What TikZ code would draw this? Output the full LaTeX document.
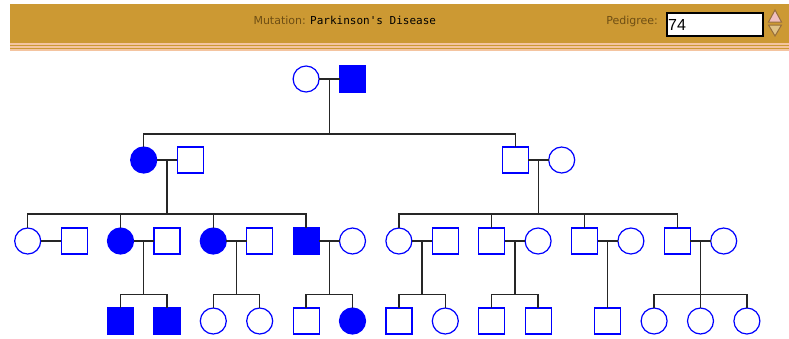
\documentclass[tikz,border=0pt]{standalone}
\usepackage{fontspec}
\usetikzlibrary{calc}
\newfontfamily\labelfont{DejaVu Sans}
\newfontfamily\namefont{DejaVu Sans Mono}
\newfontfamily\boxfont{Liberation Sans}
\definecolor{pedblue}{RGB}{0,0,255}
\definecolor{bargold}{RGB}{204,153,51}
\definecolor{barstripe}{RGB}{244,196,160}
\definecolor{labelbrown}{RGB}{110,78,20}
\definecolor{spinpink}{RGB}{240,190,190}
\definecolor{spinedge}{RGB}{150,110,60}

\begin{document}
\begin{tikzpicture}[x=1pt,y=-1pt,
  male/.style={rectangle,draw=pedblue,line width=1.2pt,minimum size=26pt,inner sep=0pt,outer sep=0pt},
  female/.style={circle,draw=pedblue,line width=1.2pt,minimum size=26pt,inner sep=0pt,outer sep=0pt},
  affected/.style={fill=pedblue},
  link/.style={draw=black!85,line width=1.3pt},
  headtext/.style={inner sep=0pt,font=\labelfont\fontsize{11}{13}\selectfont,text=labelbrown}]
\useasboundingbox (0,0) rectangle (789,338);

% header bar
\fill[bargold] (10,4) rectangle (789,43);
\fill[barstripe] (10,43) rectangle (789,44.5);
\fill[bargold] (10,44.5) rectangle (789,46);
\fill[barstripe] (10,46) rectangle (789,47.5);
\fill[bargold] (10,47.5) rectangle (789,49);
\fill[barstripe] (10,49) rectangle (789,50.5);
\node[headtext,anchor=base east] (mutlabel) at (306,24) {Mutation:};
\node[inner sep=0pt,anchor=base west,font=\namefont\fontsize{11}{13}\selectfont] (mutname) at (310,24) {Parkinson's Disease};
\node[headtext,anchor=base east] (pedlabel) at (658,24) {Pedigree:};
\node[draw=black,line width=2pt,fill=white,minimum width=96pt,minimum height=23pt,anchor=north west,inner sep=0pt] (pedbox) at (665.5,11.5) {};
\node[inner sep=0pt,anchor=base west,font=\boxfont\fontsize{16}{18}\selectfont] (pednum) at (668,30) {74};
\draw[spinedge,line width=1pt,fill=spinpink] (775,10) -- (781.5,22) -- (768.5,22) -- cycle;
\draw[spinedge,line width=1pt,fill=bargold!60] (768.5,25) -- (781.5,25) -- (775,36) -- cycle;

% sibship levels
\coordinate (sib2) at (0,134);
\coordinate (sib3) at (0,214);
\coordinate (sib4) at (0,294.5);

% generation 1
\node[female] (f1) at (306.1,79) {};
\node[male,affected] (m1) at (352.5,79) {};

% generation 2
\node[female,affected] (g2a) at (143.7,160) {};
\node[male] (g2b) at (190.1,160) {};
\node[male] (g2c) at (515.3,160) {};
\node[female] (g2d) at (561.7,160) {};

% generation 3
\node[female] (g3a) at (27.7,241) {};
\node[male] (g3b) at (74.1,241) {};
\node[female,affected] (g3c) at (120.5,241) {};
\node[male] (g3d) at (166.9,241) {};
\node[female,affected] (g3e) at (213.3,241) {};
\node[male] (g3f) at (259.7,241) {};
\node[male,affected] (g3g) at (306.1,241) {};
\node[female] (g3h) at (352.5,241) {};
\node[female] (g3i) at (398.9,241) {};
\node[male] (g3j) at (445.3,241) {};
\node[male] (g3k) at (491.7,241) {};
\node[female] (g3l) at (538.1,241) {};
\node[male] (g3m) at (584.5,241) {};
\node[female] (g3n) at (630.9,241) {};
\node[male] (g3o) at (677.3,241) {};
\node[female] (g3p) at (723.7,241) {};

% generation 4
\node[male,affected] (g4a) at (120.5,321) {};
\node[male,affected] (g4b) at (166.9,321) {};
\node[female] (g4c) at (213.3,321) {};
\node[female] (g4d) at (259.7,321) {};
\node[male] (g4e) at (306.1,321) {};
\node[female,affected] (g4f) at (352.5,321) {};
\node[male] (g4g) at (398.9,321) {};
\node[female] (g4h) at (445.3,321) {};
\node[male] (g4i) at (491.7,321) {};
\node[male] (g4j) at (538.1,321) {};
\node[male] (g4k) at (607.7,321) {};
\node[female] (g4l) at (654.1,321) {};
\node[female] (g4m) at (700.5,321) {};
\node[female] (g4n) at (746.9,321) {};

% couples and the points their children hang from
\coordinate (d1) at ($(f1.east)!0.5!(m1.west)$);
\coordinate (d2a) at ($(g2a.east)!0.5!(g2b.west)$);
\coordinate (d2c) at ($(g2c.east)!0.5!(g2d.west)$);
\coordinate (d3c) at ($(g3c.east)!0.5!(g3d.west)$);
\coordinate (d3e) at ($(g3e.east)!0.5!(g3f.west)$);
\coordinate (d3g) at ($(g3g.east)!0.5!(g3h.west)$);
\coordinate (d3i) at ($(g3i.east)!0.5!(g3j.west)$);
\coordinate (d3k) at ($(g3k.east)!0.5!(g3l.west)$);
\coordinate (d3m) at ($(g3m.east)!0.5!(g3n.west)$);
\coordinate (d3o) at ($(g3o.east)!0.5!(g3p.west)$);

\draw[link] (f1) -- (m1);
\draw[link] (g2a) -- (g2b);
\draw[link] (g2c) -- (g2d);
\draw[link] (g3a) -- (g3b);
\draw[link] (g3c) -- (g3d);
\draw[link] (g3e) -- (g3f);
\draw[link] (g3g) -- (g3h);
\draw[link] (g3i) -- (g3j);
\draw[link] (g3k) -- (g3l);
\draw[link] (g3m) -- (g3n);
\draw[link] (g3o) -- (g3p);

% generation 1 -> 2
\draw[link] (d1) -- (d1 |- sib2);
\draw[link] (g2a.north) -- (g2a.north |- sib2) -- (g2c.north |- sib2) -- (g2c.north);

% generation 2 -> 3
\draw[link] (d2a) -- (d2a |- sib3);
\draw[link] (g3a.north) -- (g3a.north |- sib3) -- (g3g.north |- sib3) -- (g3g.north);
\draw[link] (g3c.north) -- (g3c.north |- sib3);
\draw[link] (g3e.north) -- (g3e.north |- sib3);
\draw[link] (d2c) -- (d2c |- sib3);
\draw[link] (g3i.north) -- (g3i.north |- sib3) -- (g3o.north |- sib3) -- (g3o.north);
\draw[link] (g3k.north) -- (g3k.north |- sib3);
\draw[link] (g3m.north) -- (g3m.north |- sib3);

% generation 3 -> 4
\draw[link] (d3c) -- (d3c |- sib4);
\draw[link] (g4a.north) -- (g4a.north |- sib4) -- (g4b.north |- sib4) -- (g4b.north);
\draw[link] (d3e) -- (d3e |- sib4);
\draw[link] (g4c.north) -- (g4c.north |- sib4) -- (g4d.north |- sib4) -- (g4d.north);
\draw[link] (d3g) -- (d3g |- sib4);
\draw[link] (g4e.north) -- (g4e.north |- sib4) -- (g4f.north |- sib4) -- (g4f.north);
\draw[link] (d3i) -- (d3i |- sib4);
\draw[link] (g4g.north) -- (g4g.north |- sib4) -- (g4h.north |- sib4) -- (g4h.north);
\draw[link] (d3k) -- (d3k |- sib4);
\draw[link] (g4i.north) -- (g4i.north |- sib4) -- (g4j.north |- sib4) -- (g4j.north);
\draw[link] (d3m) -- (g4k.north);
\draw[link] (d3o) -- (d3o |- sib4);
\draw[link] (g4l.north) -- (g4l.north |- sib4) -- (g4n.north |- sib4) -- (g4n.north);
\draw[link] (g4m.north) -- (g4m.north |- sib4);
\end{tikzpicture}
\end{document}
